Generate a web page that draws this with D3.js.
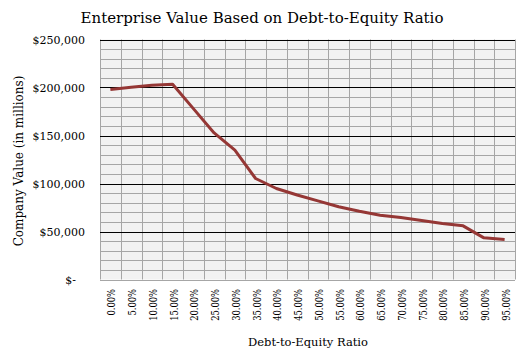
<!DOCTYPE html>
<html>
<head>
<meta charset="utf-8">
<script src="https://cdn.jsdelivr.net/npm/d3@7"></script>
<style>
  html, body { margin: 0; padding: 0; background: #ffffff; }
  svg text { font-family: "DejaVu Serif", serif; fill: #000; }
</style>
</head>
<body>
<svg id="chart" width="526" height="359"></svg>
<script>
const categories = ["0.00%","5.00%","10.00%","15.00%","20.00%","25.00%","30.00%","35.00%","40.00%","45.00%",
  "50.00%","55.00%","60.00%","65.00%","70.00%","75.00%","80.00%","85.00%","90.00%","95.00%"];
const companyValue = [198000, 200300, 202400, 203400, 178000, 152700, 134700, 105200, 94800, 88000,
  81900, 75800, 71100, 67000, 64500, 61400, 58300, 55900, 43400, 41700];
const majorTicks = [0, 50000, 100000, 150000, 200000, 250000];
const minorTicks = d3.range(0, 250001, 10000);
const tickLabels = ["$-", "$50,000", "$100,000", "$150,000", "$200,000", "$250,000"];

const svg = d3.select("#chart");
const pLeft = 100, pRight = 515, pTop = 39.5, pBottom = 279.5;

const x = d3.scaleBand().domain(categories).range([pLeft, pRight]).padding(0);
const y = d3.scaleLinear().domain([0, 250000]).range([pBottom, pTop]);

// plot background
svg.append("rect").attr("x", pLeft).attr("y", pTop).attr("width", pRight - pLeft).attr("height", pBottom - pTop)
  .attr("fill", "#f2f2f2");

// minor horizontal gridlines
svg.append("g").selectAll("line").data(minorTicks.filter(v => v % 50000 !== 0)).join("line")
  .attr("x1", pLeft).attr("x2", pRight)
  .attr("y1", d => Math.round(y(d)) + 0.5).attr("y2", d => Math.round(y(d)) + 0.5)
  .attr("stroke", "#a6a6a6").attr("stroke-width", 1);

// vertical gridlines at category boundaries
const bounds = categories.map(c => x(c)).concat([pRight]);
svg.append("g").selectAll("line").data(bounds).join("line")
  .attr("x1", d => Math.round(d) + 0.5).attr("x2", d => Math.round(d) + 0.5)
  .attr("y1", pTop).attr("y2", pBottom)
  .attr("stroke", "#a6a6a6").attr("stroke-width", 1);

// major horizontal gridlines
svg.append("g").selectAll("line").data(majorTicks.filter(v => v > 0)).join("line")
  .attr("x1", pLeft).attr("x2", pRight)
  .attr("y1", d => Math.round(y(d)) + 0.5).attr("y2", d => Math.round(y(d)) + 0.5)
  .attr("stroke", "#000").attr("stroke-width", 1.2);

// bottom axis line
svg.append("line").attr("x1", pLeft).attr("x2", pRight)
  .attr("y1", Math.round(pBottom) + 0.5).attr("y2", Math.round(pBottom) + 0.5)
  .attr("stroke", "#a6a6a6");

// y tick labels
svg.append("g").selectAll("text").data(majorTicks).join("text")
  .attr("x", (d, i) => i === 0 ? 76 : 85)
  .attr("y", d => y(d) + 4)
  .attr("text-anchor", "end")
  .attr("font-size", 11)
  .text((d, i) => tickLabels[i]);

// x tick labels
svg.append("g").selectAll("text").data(categories).join("text")
  .attr("transform", d => `translate(${x(d) + x.bandwidth() / 2 + 5},289) rotate(-90) scale(0.76,1)`)
  .attr("text-anchor", "end")
  .attr("font-size", 11)
  .text(d => d);

// line
const line = d3.line()
  .x((d, i) => x(categories[i]) + x.bandwidth() / 2)
  .y(d => y(d));
svg.append("path").datum(companyValue)
  .attr("d", line)
  .attr("fill", "none")
  .attr("stroke", "#953735")
  .attr("stroke-width", 3)
  .attr("stroke-linejoin", "round");

// titles
svg.append("text").attr("x", 262).attr("y", 23).attr("text-anchor", "middle")
  .attr("font-size", 15).text("Enterprise Value Based on Debt-to-Equity Ratio");
svg.append("text").attr("transform", "translate(23,161) rotate(-90)").attr("text-anchor", "middle")
  .attr("font-size", 12).text("Company Value (in millions)");
svg.append("text").attr("x", 308).attr("y", 346).attr("text-anchor", "middle")
  .attr("font-size", 11.5).text("Debt-to-Equity Ratio");
</script>
</body>
</html>
